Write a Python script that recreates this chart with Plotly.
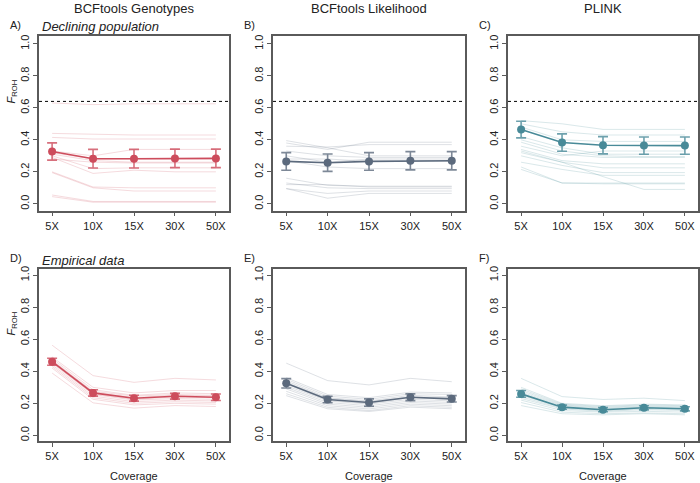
import plotly.graph_objects as go

coverage = ["5X", "10X", "15X", "30X", "50X"]
panel_titles = ["BCFtools Genotypes", "BCFtools Likelihood", "PLINK"]
panel_letters = ["A)", "B)", "C)", "D)", "E)", "F)"]
row_titles = ["Declining population", "Empirical data"]
true_froh = 0.64

# Panel A - BCFtools Genotypes, declining population
a_lines = [
    [0.63, 0.62, 0.625, 0.625, 0.625],
    [0.44, 0.435, 0.43, 0.43, 0.43],
    [0.415, 0.405, 0.405, 0.405, 0.405],
    [0.33, 0.30, 0.34, 0.34, 0.34],
    [0.32, 0.28, 0.28, 0.28, 0.28],
    [0.31, 0.27, 0.26, 0.26, 0.26],
    [0.28, 0.26, 0.255, 0.255, 0.255],
    [0.30, 0.22, 0.225, 0.225, 0.225],
    [0.29, 0.19, 0.21, 0.20, 0.20],
    [0.20, 0.105, 0.10, 0.10, 0.10],
    [0.195, 0.10, 0.08, 0.08, 0.08],
    [0.055, 0.015, 0.015, 0.015, 0.015],
    [0.045, 0.01, 0.01, 0.01, 0.01],
]
a_mean = [0.327, 0.282, 0.282, 0.284, 0.284]
a_err = [0.054, 0.058, 0.058, 0.058, 0.058]

# Panel B - BCFtools Likelihood, declining population
b_lines = [
    [0.395, 0.35, 0.30, 0.30, 0.30],
    [0.38, 0.34, 0.385, 0.385, 0.385],
    [0.36, 0.355, 0.37, 0.37, 0.37],
    [0.33, 0.30, 0.29, 0.29, 0.29],
    [0.30, 0.26, 0.28, 0.28, 0.28],
    [0.28, 0.28, 0.265, 0.265, 0.265],
    [0.27, 0.23, 0.22, 0.22, 0.22],
    [0.16, 0.115, 0.11, 0.11, 0.11],
    [0.13, 0.10, 0.095, 0.095, 0.095],
    [0.095, 0.065, 0.08, 0.08, 0.08],
    [0.095, 0.035, 0.065, 0.065, 0.065],
    [0.12, 0.12, 0.105, 0.105, 0.105],
]
b_mean = [0.265, 0.257, 0.265, 0.269, 0.269]
b_err = [0.055, 0.054, 0.055, 0.057, 0.057]

# Panel C - PLINK, declining population
c_lines = [
    [0.52, 0.50, 0.465, 0.465, 0.465],
    [0.50, 0.45, 0.43, 0.43, 0.43],
    [0.48, 0.40, 0.39, 0.39, 0.39],
    [0.42, 0.35, 0.31, 0.31, 0.31],
    [0.40, 0.33, 0.30, 0.295, 0.295],
    [0.385, 0.31, 0.29, 0.29, 0.29],
    [0.36, 0.30, 0.33, 0.33, 0.33],
    [0.34, 0.27, 0.25, 0.25, 0.25],
    [0.32, 0.26, 0.225, 0.225, 0.225],
    [0.30, 0.24, 0.195, 0.195, 0.195],
    [0.26, 0.215, 0.178, 0.178, 0.178],
    [0.33, 0.26, 0.17, 0.09, 0.09],
    [0.23, 0.13, 0.13, 0.13, 0.13],
    [0.215, 0.13, 0.125, 0.125, 0.125],
]
c_mean = [0.464, 0.383, 0.366, 0.364, 0.364]
c_err = [0.052, 0.054, 0.054, 0.054, 0.054]

# Panel D - BCFtools Genotypes, empirical data
d_lines = [
    [0.563, 0.373, 0.331, 0.356, 0.346],
    [0.49, 0.30, 0.265, 0.28, 0.28],
    [0.48, 0.285, 0.25, 0.265, 0.26],
    [0.47, 0.275, 0.245, 0.255, 0.25],
    [0.465, 0.27, 0.235, 0.25, 0.245],
    [0.455, 0.26, 0.225, 0.24, 0.235],
    [0.45, 0.255, 0.22, 0.23, 0.225],
    [0.44, 0.245, 0.21, 0.22, 0.215],
    [0.43, 0.235, 0.20, 0.21, 0.205],
    [0.42, 0.225, 0.19, 0.20, 0.195],
    [0.389, 0.203, 0.17, 0.186, 0.18],
]
d_mean = [0.46, 0.265, 0.232, 0.244, 0.238]
d_err = [0.022, 0.02, 0.018, 0.018, 0.02]

# Panel E - BCFtools Likelihood, empirical data
e_lines = [
    [0.451, 0.342, 0.315, 0.356, 0.335],
    [0.36, 0.255, 0.235, 0.27, 0.265],
    [0.35, 0.245, 0.225, 0.26, 0.255],
    [0.34, 0.235, 0.215, 0.25, 0.24],
    [0.33, 0.23, 0.21, 0.24, 0.235],
    [0.32, 0.22, 0.20, 0.235, 0.225],
    [0.31, 0.215, 0.195, 0.225, 0.215],
    [0.30, 0.205, 0.185, 0.215, 0.205],
    [0.29, 0.195, 0.175, 0.205, 0.195],
    [0.275, 0.185, 0.165, 0.195, 0.185],
    [0.26, 0.175, 0.155, 0.185, 0.175],
    [0.248, 0.166, 0.149, 0.176, 0.166],
]
e_mean = [0.325, 0.224, 0.205, 0.238, 0.228]
e_err = [0.029, 0.02, 0.023, 0.021, 0.02]

# Panel F - PLINK, empirical data
f_lines = [
    [0.356, 0.242, 0.224, 0.232, 0.217],
    [0.30, 0.20, 0.185, 0.195, 0.19],
    [0.29, 0.195, 0.18, 0.19, 0.185],
    [0.28, 0.19, 0.175, 0.185, 0.18],
    [0.27, 0.185, 0.17, 0.18, 0.175],
    [0.26, 0.18, 0.165, 0.175, 0.17],
    [0.25, 0.175, 0.16, 0.17, 0.165],
    [0.24, 0.17, 0.155, 0.165, 0.16],
    [0.23, 0.165, 0.15, 0.16, 0.155],
    [0.22, 0.155, 0.145, 0.15, 0.145],
    [0.205, 0.145, 0.135, 0.14, 0.135],
    [0.186, 0.135, 0.128, 0.135, 0.128],
]
f_mean = [0.259, 0.176, 0.16, 0.172, 0.166]
f_err = [0.021, 0.013, 0.013, 0.013, 0.013]

colors = [(205, 76, 92), (92, 106, 125), (72, 138, 152)]

panels = [
    (a_lines, a_mean, a_err), (b_lines, b_mean, b_err), (c_lines, c_mean, c_err),
    (d_lines, d_mean, d_err), (e_lines, e_mean, e_err), (f_lines, f_mean, f_err),
]

W, H = 700, 483
xdom_px = [(39, 229), (273, 465), (508, 698)]
ydom_px = [(33, 209), (268, 441)]

FONT = "Liberation Sans, Arial, Helvetica, sans-serif"
fig = go.Figure()
layout = dict(width=W, height=H, margin=dict(l=0, r=0, t=0, b=0),
              paper_bgcolor="white", plot_bgcolor="white", showlegend=False,
              font=dict(family=FONT, size=11, color="#222"))
annotations = []
shapes = []

for i, (lines, mean, err) in enumerate(panels):
    r, c = divmod(i, 3)
    idx = "" if i == 0 else str(i + 1)
    xa, ya = "x" + idx, "y" + idx
    col = colors[c]
    solid = "rgb(%d,%d,%d)" % col
    light = "rgba(%d,%d,%d,0.2)" % col
    errc = "rgba(%d,%d,%d,0.8)" % col
    for ln in lines:
        fig.add_trace(go.Scatter(x=coverage, y=ln, mode="lines", xaxis=xa, yaxis=ya,
                                 line=dict(color=light, width=1), hoverinfo="skip"))
    fig.add_trace(go.Scatter(x=coverage, y=mean, mode="lines+markers", xaxis=xa, yaxis=ya,
                             line=dict(color=solid, width=1.6),
                             marker=dict(color=solid, size=8),
                             error_y=dict(type="data", array=err, color=errc,
                                          thickness=1.6, width=5)))
    x0, x1 = xdom_px[c]
    y0, y1 = ydom_px[r]
    yrange = [-0.043, 1.05] if r == 0 else [-0.037, 1.037]
    layout["xaxis" + idx] = dict(domain=[x0 / W, x1 / W], anchor=ya, type="category",
                                 categoryorder="array", categoryarray=coverage,
                                 range=[-0.32, 4.32], showline=True, mirror=True,
                                 linecolor="#5a5a5a", linewidth=1.5, ticks="outside",
                                 ticklen=4, tickcolor="#5a5a5a", showgrid=False,
                                 zeroline=False, tickfont=dict(size=11, color="#222"))
    layout["yaxis" + idx] = dict(domain=[1 - y1 / H, 1 - y0 / H], anchor=xa,
                                 range=yrange, tickvals=[0, 0.2, 0.4, 0.6, 0.8, 1.0],
                                 ticktext=["0.0", "0.2", "0.4", "0.6", "0.8", "1.0"],
                                 tickangle=-90, showline=True, mirror=True,
                                 linecolor="#5a5a5a", linewidth=1.5, ticks="outside",
                                 ticklen=4, tickcolor="#5a5a5a", showgrid=False,
                                 zeroline=False, tickfont=dict(size=11, color="#222"))
    # panel letter
    annotations.append(dict(text=panel_letters[i], xref="paper", yref="paper",
                            x=(x0 - 31) / W, y=1 - (y0 - 11) / H, xanchor="left",
                            yanchor="middle", showarrow=False, font=dict(size=11, color="#222")))
    if r == 0:
        shapes.append(dict(type="line", xref=xa + " domain", yref=ya, x0=0, x1=1,
                           y0=true_froh, y1=true_froh,
                           line=dict(color="black", width=1, dash="3px,3px")))
        annotations.append(dict(text=panel_titles[c], xref="paper", yref="paper",
                                x=(x0 + x1) / 2 / W, y=1 - 6 / H, xanchor="center",
                                yanchor="middle", showarrow=False,
                                font=dict(size=13, color="#222")))
    if c == 0:
        annotations.append(dict(text="<i>%s</i>" % row_titles[r], xref="paper", yref="paper",
                                x=(x0 + 1) / W, y=1 - (y0 - 9) / H, xanchor="left",
                                yanchor="middle", showarrow=False,
                                font=dict(size=13, color="#222")))
        annotations.append(dict(text="<i>F</i><sub>ROH</sub>", xref="paper", yref="paper",
                                x=12 / W, y=1 - ((y0 + y1) / 2 - 32) / H, xanchor="center",
                                yanchor="middle", textangle=-90, showarrow=False,
                                font=dict(size=11, color="#222")))
    if r == 1:
        annotations.append(dict(text="Coverage", xref="paper", yref="paper",
                                x=(x0 + x1) / 2 / W, y=1 - 476 / H, xanchor="center",
                                yanchor="middle", showarrow=False,
                                font=dict(size=11, color="#222")))

layout["annotations"] = annotations
layout["shapes"] = shapes
fig.update_layout(**layout)
fig.write_html("out.html", config={"displayModeBar": False},
               post_script="document.body.style.margin='0';document.body.style.overflow='hidden';")
